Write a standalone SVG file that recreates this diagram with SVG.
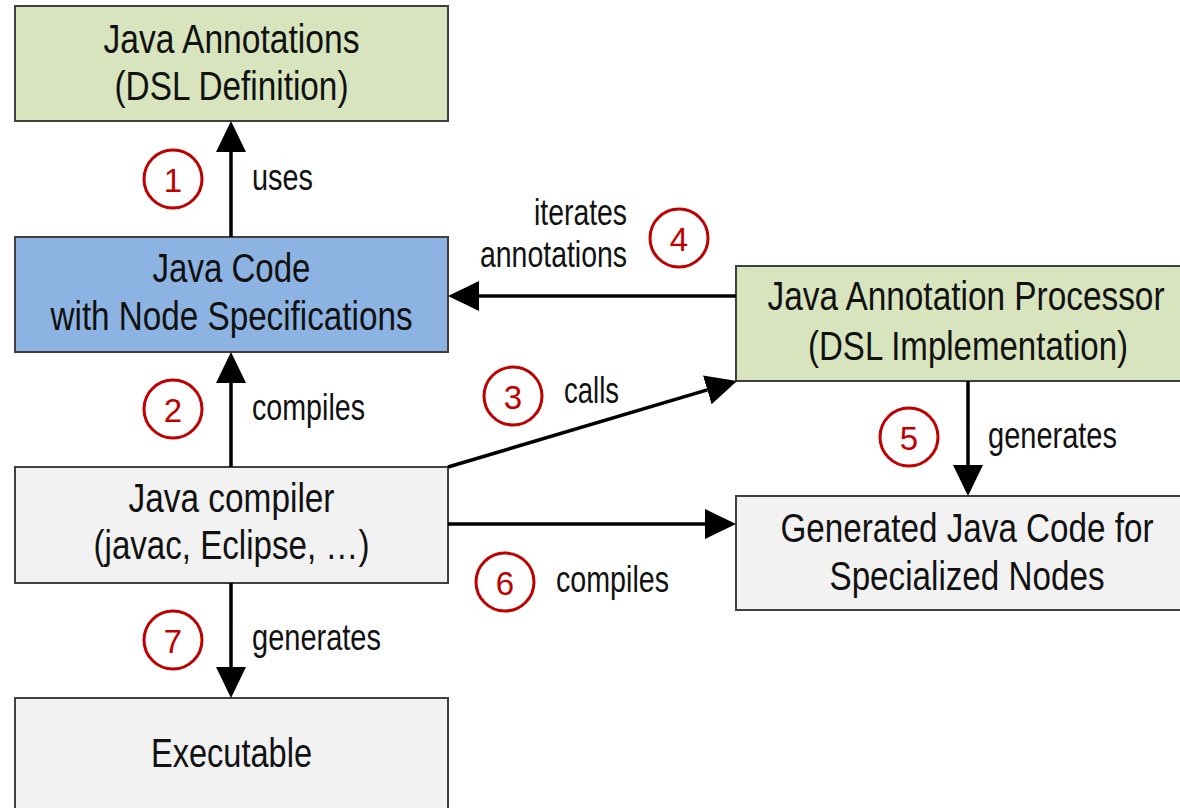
<svg xmlns="http://www.w3.org/2000/svg" width="1180" height="808" viewBox="0 0 1180 808">
<style>
.box{stroke:#404040;stroke-width:2}
.green{fill:#D7E4BD}
.blue{fill:#8DB3E2}
.grey{fill:#F2F2F2}
.t{font-family:"Liberation Sans",Arial,sans-serif;font-size:40px;fill:#111;text-anchor:middle}
.l{font-family:"Liberation Sans",Arial,sans-serif;font-size:36px;fill:#111}
.n{font-family:"Liberation Sans",Arial,sans-serif;font-size:33px;fill:#C00000;text-anchor:middle}
.c{fill:#fff;stroke:#C00000;stroke-width:3}
.e{stroke:#000;stroke-width:3.5;fill:none}
</style>
<defs>
<marker id="ah" markerUnits="userSpaceOnUse" markerWidth="32" markerHeight="32" refX="0" refY="15" orient="auto" viewBox="0 0 32 32">
<path d="M0,0 L31,15 L0,30 Z" fill="#000"/>
</marker>
</defs>
<rect width="1180" height="808" fill="#fff"/>
<g id="node-annotations">
<rect class="box green" x="15" y="6" width="433" height="115"/>
<text class="t" x="231.5" y="53" textLength="256" lengthAdjust="spacingAndGlyphs">Java Annotations</text>
<text class="t" x="231.5" y="100" textLength="234" lengthAdjust="spacingAndGlyphs">(DSL Definition)</text>
</g>
<g id="node-javacode">
<rect class="box blue" x="15" y="237" width="433" height="115"/>
<text class="t" x="231.5" y="282" textLength="158" lengthAdjust="spacingAndGlyphs">Java Code</text>
<text class="t" x="231.5" y="330" textLength="362" lengthAdjust="spacingAndGlyphs">with Node Specifications</text>
</g>
<g id="node-compiler">
<rect class="box grey" x="15" y="467" width="433" height="116"/>
<text class="t" x="231.5" y="512" textLength="206" lengthAdjust="spacingAndGlyphs">Java compiler</text>
<text class="t" x="231.5" y="559" textLength="276" lengthAdjust="spacingAndGlyphs">(javac, Eclipse, …)</text>
</g>
<g id="node-executable">
<rect class="box grey" x="15" y="698" width="433" height="112"/>
<text class="t" x="231.5" y="767" textLength="161" lengthAdjust="spacingAndGlyphs">Executable</text>
</g>
<g id="node-processor">
<rect class="box green" x="736" y="266" width="446" height="115"/>
<text class="t" x="966" y="310" textLength="397" lengthAdjust="spacingAndGlyphs">Java Annotation Processor</text>
<text class="t" x="968" y="360" textLength="320" lengthAdjust="spacingAndGlyphs">(DSL Implementation)</text>
</g>
<g id="node-generated">
<rect class="box grey" x="736" y="496" width="446" height="114"/>
<text class="t" x="967" y="542" textLength="373" lengthAdjust="spacingAndGlyphs">Generated Java Code for</text>
<text class="t" x="967" y="590" textLength="275" lengthAdjust="spacingAndGlyphs">Specialized Nodes</text>
</g>
<g id="connectors">
<path class="e" d="M231,237 L231,152" marker-end="url(#ah)"/>
<path class="e" d="M231,467 L231,383" marker-end="url(#ah)"/>
<path class="e" d="M231,583 L231,667" marker-end="url(#ah)"/>
<path class="e" d="M736,296 L479,296" marker-end="url(#ah)"/>
<path class="e" d="M968,381 L968,465" marker-end="url(#ah)"/>
<path class="e" d="M448,524 L705,524" marker-end="url(#ah)"/>
<path class="e" d="M448,467 L707.3,389.9" marker-end="url(#ah)"/>
</g>
<g id="labels">
<text class="l" x="252" y="190" textLength="61" lengthAdjust="spacingAndGlyphs">uses</text>
<text class="l" x="252" y="420" textLength="113" lengthAdjust="spacingAndGlyphs">compiles</text>
<text class="l" x="252" y="650" textLength="129" lengthAdjust="spacingAndGlyphs">generates</text>
<text class="l" x="534" y="225" textLength="93" lengthAdjust="spacingAndGlyphs">iterates</text>
<text class="l" x="480" y="267" textLength="147" lengthAdjust="spacingAndGlyphs">annotations</text>
<text class="l" x="564" y="403" textLength="55" lengthAdjust="spacingAndGlyphs">calls</text>
<text class="l" x="988" y="448" textLength="129" lengthAdjust="spacingAndGlyphs">generates</text>
<text class="l" x="556" y="592" textLength="113" lengthAdjust="spacingAndGlyphs">compiles</text>
</g>
<g id="step-markers">
<circle class="c" cx="173" cy="179" r="29"/><text class="n" x="173" y="192">1</text>
<circle class="c" cx="173" cy="409" r="29"/><text class="n" x="173" y="422">2</text>
<circle class="c" cx="513" cy="396" r="29"/><text class="n" x="513" y="409">3</text>
<circle class="c" cx="679" cy="238" r="29"/><text class="n" x="679" y="251">4</text>
<circle class="c" cx="909" cy="437" r="29"/><text class="n" x="909" y="450">5</text>
<circle class="c" cx="505" cy="582" r="29"/><text class="n" x="505" y="595">6</text>
<circle class="c" cx="173" cy="640" r="29"/><text class="n" x="173" y="653">7</text>
</g>
</svg>
